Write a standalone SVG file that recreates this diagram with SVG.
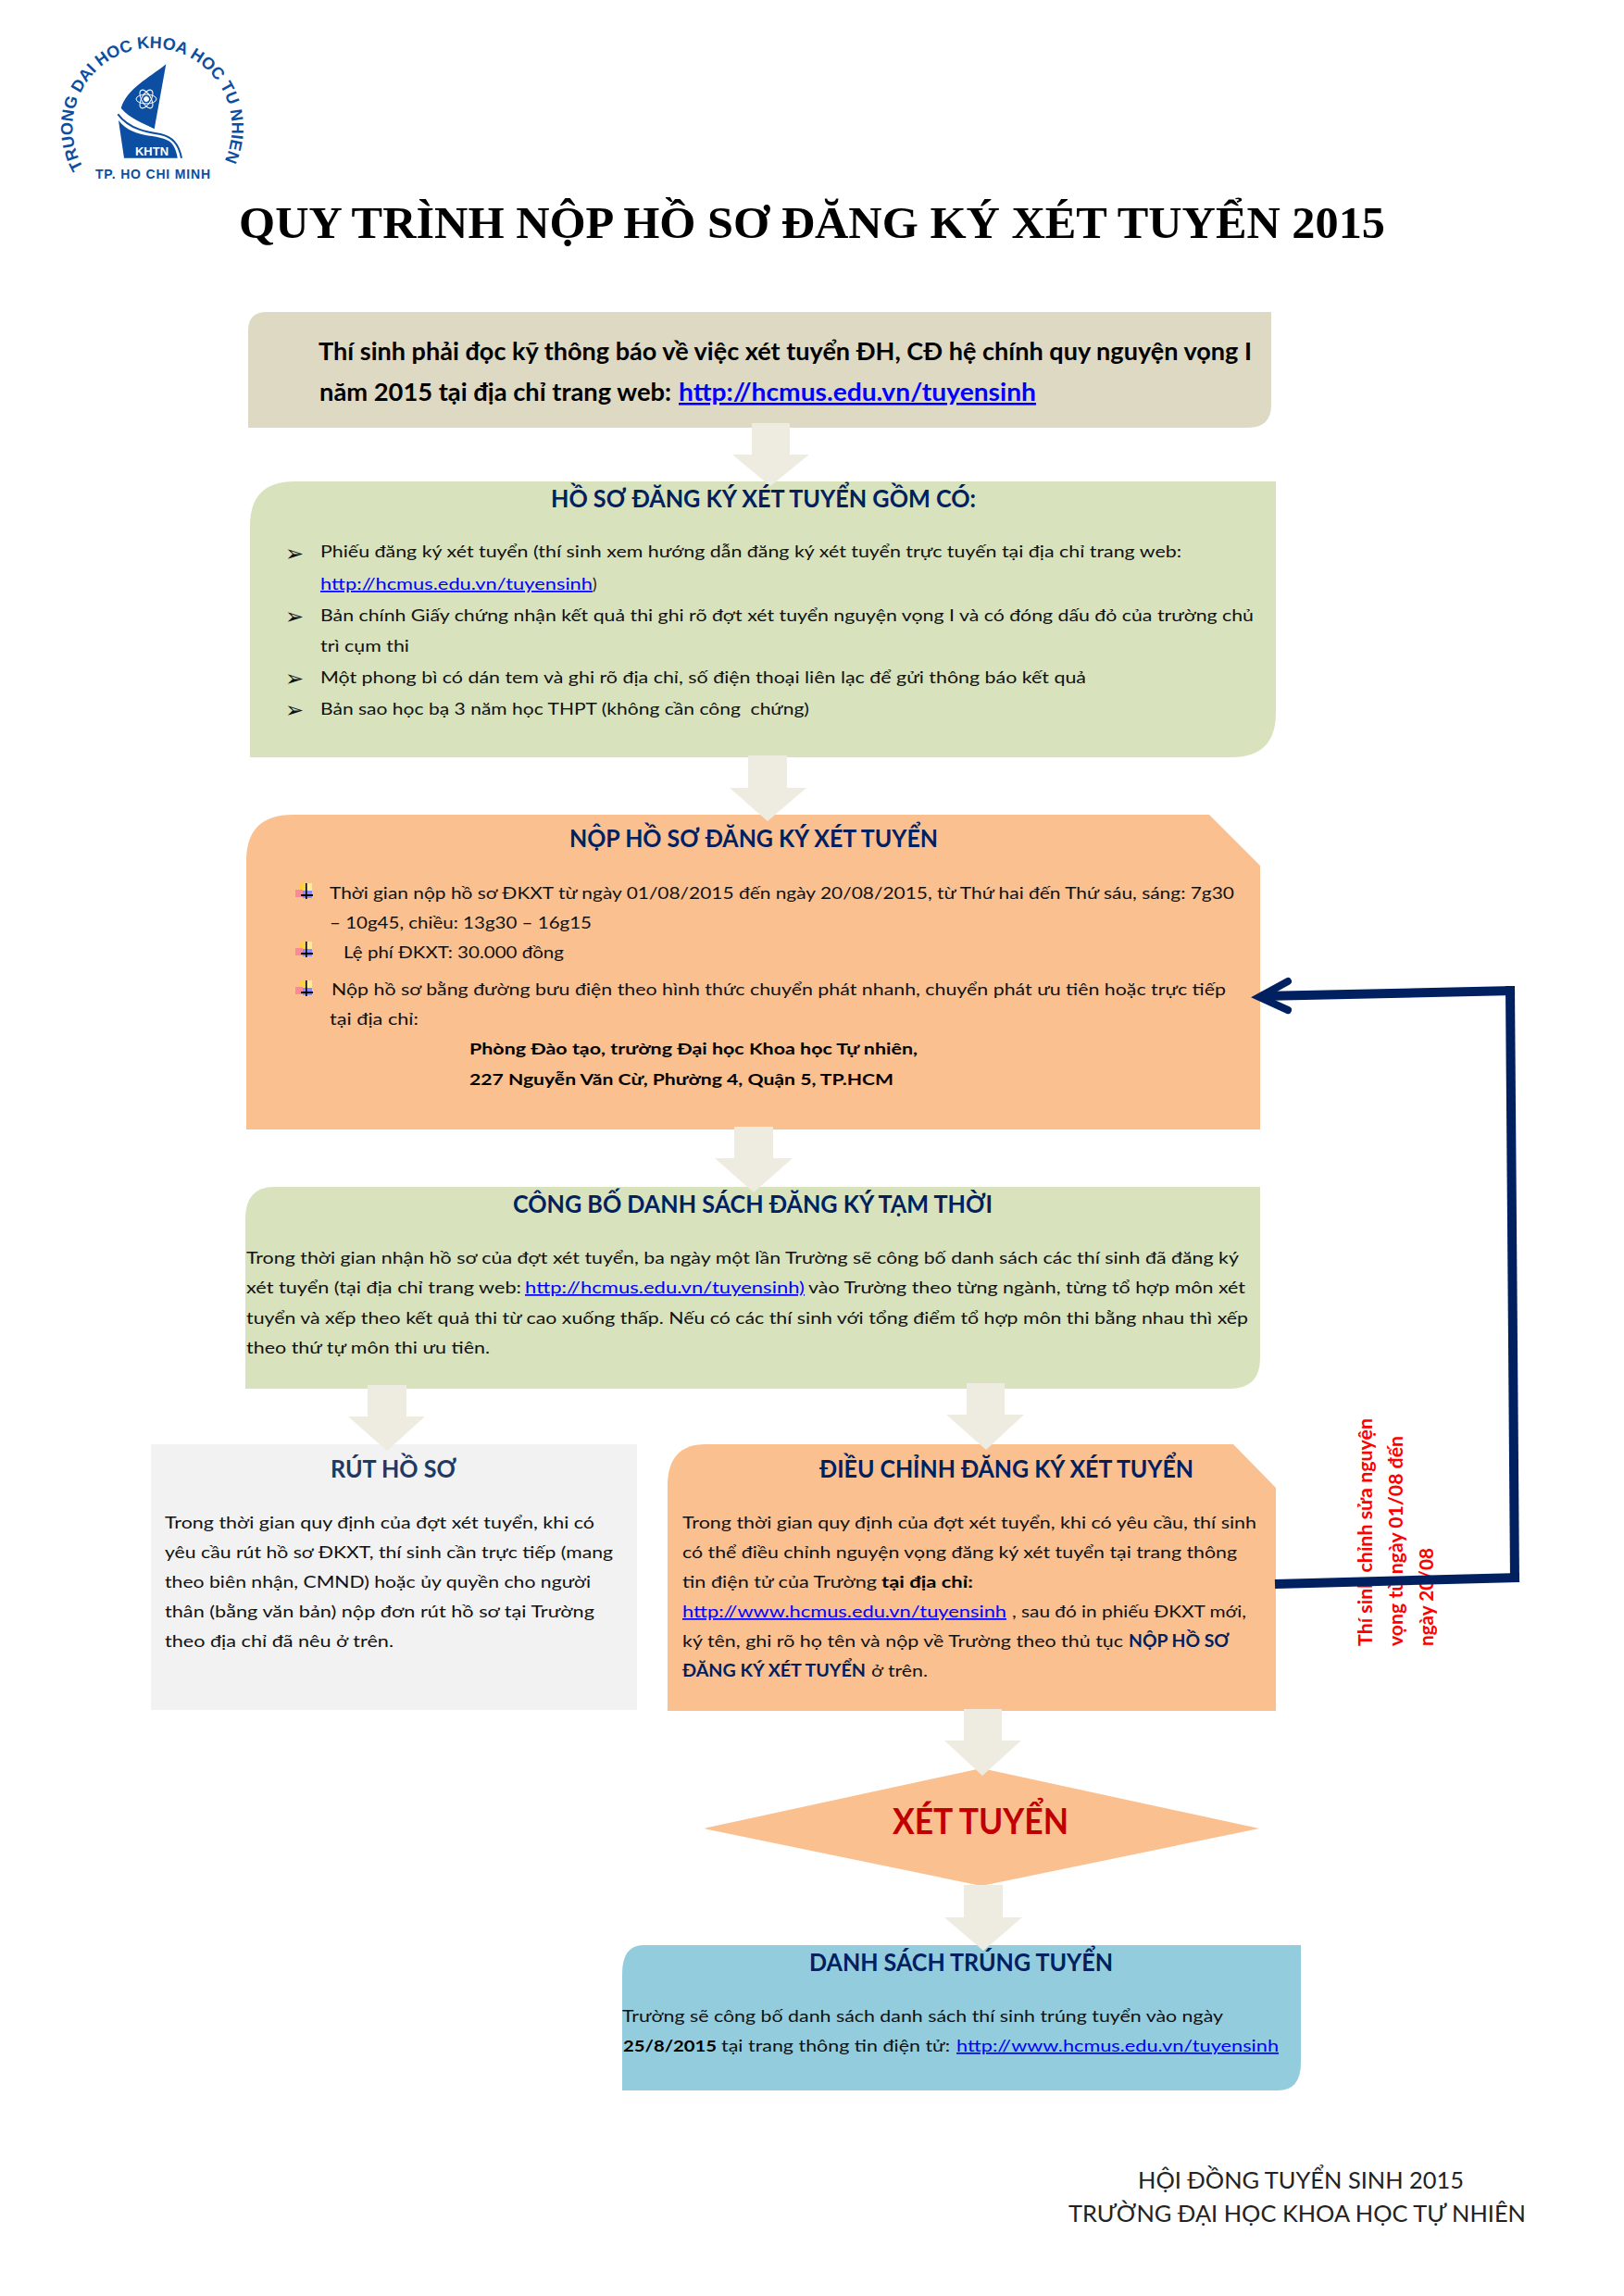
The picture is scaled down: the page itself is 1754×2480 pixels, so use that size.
<svg xmlns="http://www.w3.org/2000/svg" width="1754" height="2480" viewBox="0 0 1754 2480">
<style>
text{font-family:"Lato","Noto Sans","DejaVu Sans",sans-serif;white-space:pre;fill:#111}
.b{font-size:17px}
.bb{font-size:17px;font-weight:700;fill:#000}
.nb{font-size:17px;font-weight:700;fill:#002060}
.h{font-size:26px;font-weight:700;fill:#002060}
.l{font-size:17px;fill:#0000ff;text-decoration:underline}
.t{font-size:26px;font-weight:700;fill:#000}
.tl{font-size:26px;font-weight:700;fill:#0000ff;text-decoration:underline}
.f{font-size:25px;fill:#222}
.r{font-size:21px;font-weight:700;fill:#ff0000}
.m{font-size:24px;font-family:"DejaVu Sans",sans-serif;fill:#111}
.a{fill:#eeece1}
.c{fill:none;stroke:#002060;stroke-width:10}
.lg{fill:#0b4ea2;font-family:"Liberation Sans",sans-serif;font-weight:700}
</style>
<defs>
<g id="star">
<rect x="324" y="954" width="13" height="9" fill="#ffe9a0"/>
<rect x="324" y="954" width="6" height="9" fill="#ffd040"/>
<rect x="319" y="961" width="8" height="8" fill="#fb8a98"/>
<rect x="327" y="962" width="10" height="8" fill="#8a8aff"/>
<rect x="325" y="966" width="13" height="2" fill="#000"/>
<rect x="330" y="954" width="1.6" height="17" fill="#000"/>
</g>
</defs>
<rect width="1754" height="2480" fill="#fff"/>
<g id="logo">
<path id="lgc" d="M90,181A86,86 0 1 1 241,177" fill="none"/>
<text class="lg" font-size="18"><textPath href="#lgc" textLength="352" style="fill:#0b4ea2">TRUONG DAI HOC KHOA HOC TU NHIEN</textPath></text>
<path d="M179.3,69.3C160,85 138,95 130.7,116.7C140,128 155,133 166.7,139.3Z" fill="#0b4ea2"/>
<path d="M127.3,123.3C140,140 160,143 173.3,145C186,148 193,155 196,170.7" fill="none" stroke="#0b4ea2" stroke-width="2"/>
<path d="M128,130C136,141 150,145 160,146.5C172,148 183,150 187,157C190,162 191,166 191.7,170.7H134Z" fill="#0b4ea2"/>
<g fill="none" stroke="#fff" stroke-width="1"><ellipse cx="158" cy="107" rx="11" ry="5"/><ellipse cx="158" cy="107" rx="11" ry="5" transform="rotate(60 158 107)"/><ellipse cx="158" cy="107" rx="11" ry="5" transform="rotate(120 158 107)"/><circle cx="158" cy="107" r="2.5" fill="#fff"/></g>
<text x="146" y="168" textLength="36" lengthAdjust="spacingAndGlyphs" style="font-family:'Liberation Sans',sans-serif;font-size:12px;font-weight:700;fill:#fff">KHTN</text>
<text class="lg" x="103" y="193" font-size="14" textLength="124" style="fill:#0b4ea2">TP. HO CHI MINH</text>
</g>
<g id="title"><text x="258" y="257" textLength="1238" lengthAdjust="spacingAndGlyphs" style="font-family:'Liberation Serif',serif;font-size:48px;font-weight:700;fill:#000">QUY TRÌNH NỘP HỒ SƠ ĐĂNG KÝ XÉT TUYỂN 2015</text></g>
<g id="n1">
<path d="M268,462V357Q268,337 288,337H1373V437Q1373,462 1348,462Z" fill="#ddd9c3"/>
<text class="t" x="344" y="389" textLength="1008" lengthAdjust="spacingAndGlyphs">Thí sinh phải đọc kỹ thông báo về việc xét tuyển ĐH, CĐ hệ chính quy nguyện vọng I</text>
<text class="t" x="345" y="433" textLength="380" lengthAdjust="spacingAndGlyphs">năm 2015 tại địa chỉ trang web:</text>
<text class="tl" x="733" y="433" textLength="386" lengthAdjust="spacingAndGlyphs">http://hcmus.edu.vn/tuyensinh</text>
</g>
<g id="n2">
<path d="M270,818V568Q270,520 318,520H1378V770Q1378,818 1330,818Z" fill="#d8e3bd"/>
<text class="h" x="595" y="548" textLength="459" lengthAdjust="spacingAndGlyphs">HỒ SƠ ĐĂNG KÝ XÉT TUYỂN GỒM CÓ:</text>
<text class="m" x="308" y="606">➢</text>
<text class="b" x="346" y="602" textLength="930" lengthAdjust="spacingAndGlyphs">Phiếu đăng ký xét tuyển (thí sinh xem hướng dẫn đăng ký xét tuyển trực tuyến tại địa chỉ trang web:</text>
<text class="l" x="346" y="637" textLength="294" lengthAdjust="spacingAndGlyphs">http://hcmus.edu.vn/tuyensinh</text>
<text class="b" x="640" y="637">)</text>
<text class="m" x="308" y="674">➢</text>
<text class="b" x="346" y="671" textLength="1008" lengthAdjust="spacingAndGlyphs">Bản chính Giấy chứng nhận kết quả thi ghi rõ đợt xét tuyển nguyện vọng I và có đóng dấu đỏ của trường chủ</text>
<text class="b" x="346" y="704" textLength="96" lengthAdjust="spacingAndGlyphs">trì cụm thi</text>
<text class="m" x="308" y="741">➢</text>
<text class="b" x="346" y="738" textLength="827" lengthAdjust="spacingAndGlyphs">Một phong bì có dán tem và ghi rõ địa chỉ, số điện thoại liên lạc để gửi thông báo kết quả</text>
<text class="m" x="308" y="775">➢</text>
<text class="b" x="346" y="772" textLength="528" lengthAdjust="spacingAndGlyphs">Bản sao học bạ 3 năm học THPT (không cần công  chứng)</text>
</g>
<g id="n3">
<path d="M266,1220V930Q266,880 316,880H1306L1361,935V1220Z" fill="#fbc08f"/>
<text class="h" x="615" y="915" textLength="398" lengthAdjust="spacingAndGlyphs">NỘP HỒ SƠ ĐĂNG KÝ XÉT TUYỂN</text>
<use href="#star"/><use href="#star" y="63"/><use href="#star" y="105"/>
<text class="b" x="356" y="971" textLength="977" lengthAdjust="spacingAndGlyphs">Thời gian nộp hồ sơ ĐKXT từ ngày 01/08/2015 đến ngày 20/08/2015, từ Thứ hai đến Thứ sáu, sáng: 7g30</text>
<text class="b" x="356" y="1003" textLength="283" lengthAdjust="spacingAndGlyphs">– 10g45, chiều: 13g30 – 16g15</text>
<text class="b" x="371" y="1035" textLength="238" lengthAdjust="spacingAndGlyphs">Lệ phí ĐKXT: 30.000 đồng</text>
<text class="b" x="358" y="1075" textLength="966" lengthAdjust="spacingAndGlyphs">Nộp hồ sơ bằng đường bưu điện theo hình thức chuyển phát nhanh, chuyển phát ưu tiên hoặc trực tiếp</text>
<text class="b" x="356" y="1107" textLength="96" lengthAdjust="spacingAndGlyphs">tại địa chỉ:</text>
<text class="bb" x="507" y="1139" textLength="484" lengthAdjust="spacingAndGlyphs">Phòng Đào tạo, trường Đại học Khoa học Tự nhiên,</text>
<text class="bb" x="507" y="1172" textLength="458" lengthAdjust="spacingAndGlyphs">227 Nguyễn Văn Cừ, Phường 4, Quận 5, TP.HCM</text>
</g>
<g id="n4">
<path d="M265,1500V1317Q265,1282 296,1282H1361V1467Q1361,1500 1328,1500Z" fill="#d8e3bd"/>
<text class="h" x="554" y="1310" textLength="518" lengthAdjust="spacingAndGlyphs">CÔNG BỐ DANH SÁCH ĐĂNG KÝ TẠM THỜI</text>
<text class="b" x="266" y="1365" textLength="1072" lengthAdjust="spacingAndGlyphs">Trong thời gian nhận hồ sơ của đợt xét tuyển, ba ngày một lần Trường sẽ công bố danh sách các thí sinh đã đăng ký</text>
<text class="b" x="266" y="1397" textLength="297" lengthAdjust="spacingAndGlyphs">xét tuyển (tại địa chỉ trang web:</text>
<text class="l" x="567" y="1397" textLength="302" lengthAdjust="spacingAndGlyphs">http://hcmus.edu.vn/tuyensinh)</text>
<text class="b" x="873" y="1397" textLength="472" lengthAdjust="spacingAndGlyphs">vào Trường theo từng ngành, từng tổ hợp môn xét</text>
<text class="b" x="266" y="1430" textLength="1082" lengthAdjust="spacingAndGlyphs">tuyển và xếp theo kết quả thi từ cao xuống thấp. Nếu có các thí sinh với tổng điểm tổ hợp môn thi bằng nhau thì xếp</text>
<text class="b" x="266" y="1462" textLength="263" lengthAdjust="spacingAndGlyphs">theo thứ tự môn thi ưu tiên.</text>
</g>
<g id="n5">
<rect x="163" y="1560" width="525" height="287" fill="#f2f2f2"/>
<text class="h" x="357" y="1596" textLength="136" lengthAdjust="spacingAndGlyphs" style="fill:#1f3864">RÚT HỒ SƠ</text>
<text class="b" x="178" y="1651" textLength="464" lengthAdjust="spacingAndGlyphs">Trong thời gian quy định của đợt xét tuyển, khi có</text>
<text class="b" x="178" y="1683" textLength="484" lengthAdjust="spacingAndGlyphs">yêu cầu rút hồ sơ ĐKXT, thí sinh cần trực tiếp (mang</text>
<text class="b" x="178" y="1715" textLength="460" lengthAdjust="spacingAndGlyphs">theo biên nhận, CMND) hoặc ủy quyền cho người</text>
<text class="b" x="178" y="1747" textLength="464" lengthAdjust="spacingAndGlyphs">thân (bằng văn bản) nộp đơn rút hồ sơ tại Trường</text>
<text class="b" x="178" y="1779" textLength="247" lengthAdjust="spacingAndGlyphs">theo địa chỉ đã nêu ở trên.</text>
</g>
<g id="n6">
<path d="M721,1848V1605Q721,1560 762,1560H1332L1378,1607V1848Z" fill="#fbc08f"/>
<text class="h" x="885" y="1596" textLength="404" lengthAdjust="spacingAndGlyphs">ĐIỀU CHỈNH ĐĂNG KÝ XÉT TUYỂN</text>
<text class="b" x="737" y="1651" textLength="620" lengthAdjust="spacingAndGlyphs">Trong thời gian quy định của đợt xét tuyển, khi có yêu cầu, thí sinh</text>
<text class="b" x="737" y="1683" textLength="599" lengthAdjust="spacingAndGlyphs">có thể điều chỉnh nguyện vọng đăng ký xét tuyển tại trang thông</text>
<text class="b" x="737" y="1715" textLength="210" lengthAdjust="spacingAndGlyphs">tin điện tử của Trường</text>
<text class="bb" x="952" y="1715" textLength="99" lengthAdjust="spacingAndGlyphs">tại địa chỉ:</text>
<text class="l" x="737" y="1747" textLength="350" lengthAdjust="spacingAndGlyphs">http://www.hcmus.edu.vn/tuyensinh</text>
<text class="b" x="1093" y="1747" textLength="253" lengthAdjust="spacingAndGlyphs">, sau đó in phiếu ĐKXT mới,</text>
<text class="b" x="737" y="1779" textLength="476" lengthAdjust="spacingAndGlyphs">ký tên, ghi rõ họ tên và nộp về Trường theo thủ tục</text>
<text class="nb" x="1219" y="1779" style="font-size:19px" textLength="109" lengthAdjust="spacingAndGlyphs">NỘP HỒ SƠ</text>
<text class="nb" x="737" y="1811" style="font-size:19px" textLength="198" lengthAdjust="spacingAndGlyphs">ĐĂNG KÝ XÉT TUYỂN</text>
<text class="b" x="941" y="1811" textLength="61" lengthAdjust="spacingAndGlyphs">ở trên.</text>
</g>
<g id="n7">
<path d="M760,1975L1060,1910L1360,1975L1060,2037Z" fill="#fbc08f"/>
<text x="964" y="1981" textLength="190" lengthAdjust="spacingAndGlyphs" style="font-size:38px;font-weight:700;fill:#c00000">XÉT TUYỂN</text>
</g>
<g id="n8">
<path d="M672,2258V2132Q672,2101 695,2101H1405V2228Q1405,2258 1380,2258Z" fill="#93cddd"/>
<text class="h" x="874" y="2129" textLength="328" lengthAdjust="spacingAndGlyphs">DANH SÁCH TRÚNG TUYỂN</text>
<text class="b" x="672" y="2184" textLength="649" lengthAdjust="spacingAndGlyphs">Trường sẽ công bố danh sách danh sách thí sinh trúng tuyển vào ngày</text>
<text class="bb" x="673" y="2216" textLength="101" lengthAdjust="spacingAndGlyphs">25/8/2015</text>
<text class="b" x="779" y="2216" textLength="247" lengthAdjust="spacingAndGlyphs">tại trang thông tin điện tử:</text>
<text class="l" x="1033" y="2216" textLength="348" lengthAdjust="spacingAndGlyphs">http://www.hcmus.edu.vn/tuyensinh</text>
</g>
<g id="note">
<text class="r" transform="translate(1482,1778) rotate(-90)" textLength="246" lengthAdjust="spacingAndGlyphs">Thí sinh chỉnh sửa nguyện</text>
<text class="r" transform="translate(1515,1778) rotate(-90)" textLength="227" lengthAdjust="spacingAndGlyphs">vọng từ ngày 01/08 đến</text>
<text class="r" transform="translate(1548,1778) rotate(-90)" textLength="106" lengthAdjust="spacingAndGlyphs">ngày 20/08</text>
</g>
<g id="footer">
<text class="f" x="1229" y="2364" textLength="352" lengthAdjust="spacingAndGlyphs">HỘI ĐỒNG TUYỂN SINH 2015</text>
<text class="f" x="1154" y="2400" textLength="494" lengthAdjust="spacingAndGlyphs">TRƯỜNG ĐẠI HỌC KHOA HỌC TỰ NHIÊN</text>
</g>
<g id="connectors">
<path class="a" d="M812,457H853V491H874L832,525L791,491H812Z"/>
<path class="a" d="M808,816H850V851H871L829,887L788,851H808Z"/>
<path class="a" d="M793,1217H835V1251H856L814,1288L772,1251H793Z"/>
<path class="a" d="M397,1496H439V1530H459L418,1567L376,1530H397Z"/>
<path class="a" d="M1044,1494H1085V1528H1106L1065,1566L1022,1528H1044Z"/>
<path class="a" d="M1041,1846H1082V1880H1103L1061,1918L1020,1880H1041Z"/>
<path class="a" d="M1041,2036H1083V2071H1104L1062,2107L1020,2071H1041Z"/>
<path class="c" d="M1377,1711L1641,1704"/>
<path class="c" d="M1631,1065L1636,1709"/>
<path class="c" d="M1636,1070L1362,1076"/>
<path class="c" d="M1391,1060L1360,1077L1391,1091" stroke-linecap="round" style="stroke-width:8"/>
</g>
</svg>
